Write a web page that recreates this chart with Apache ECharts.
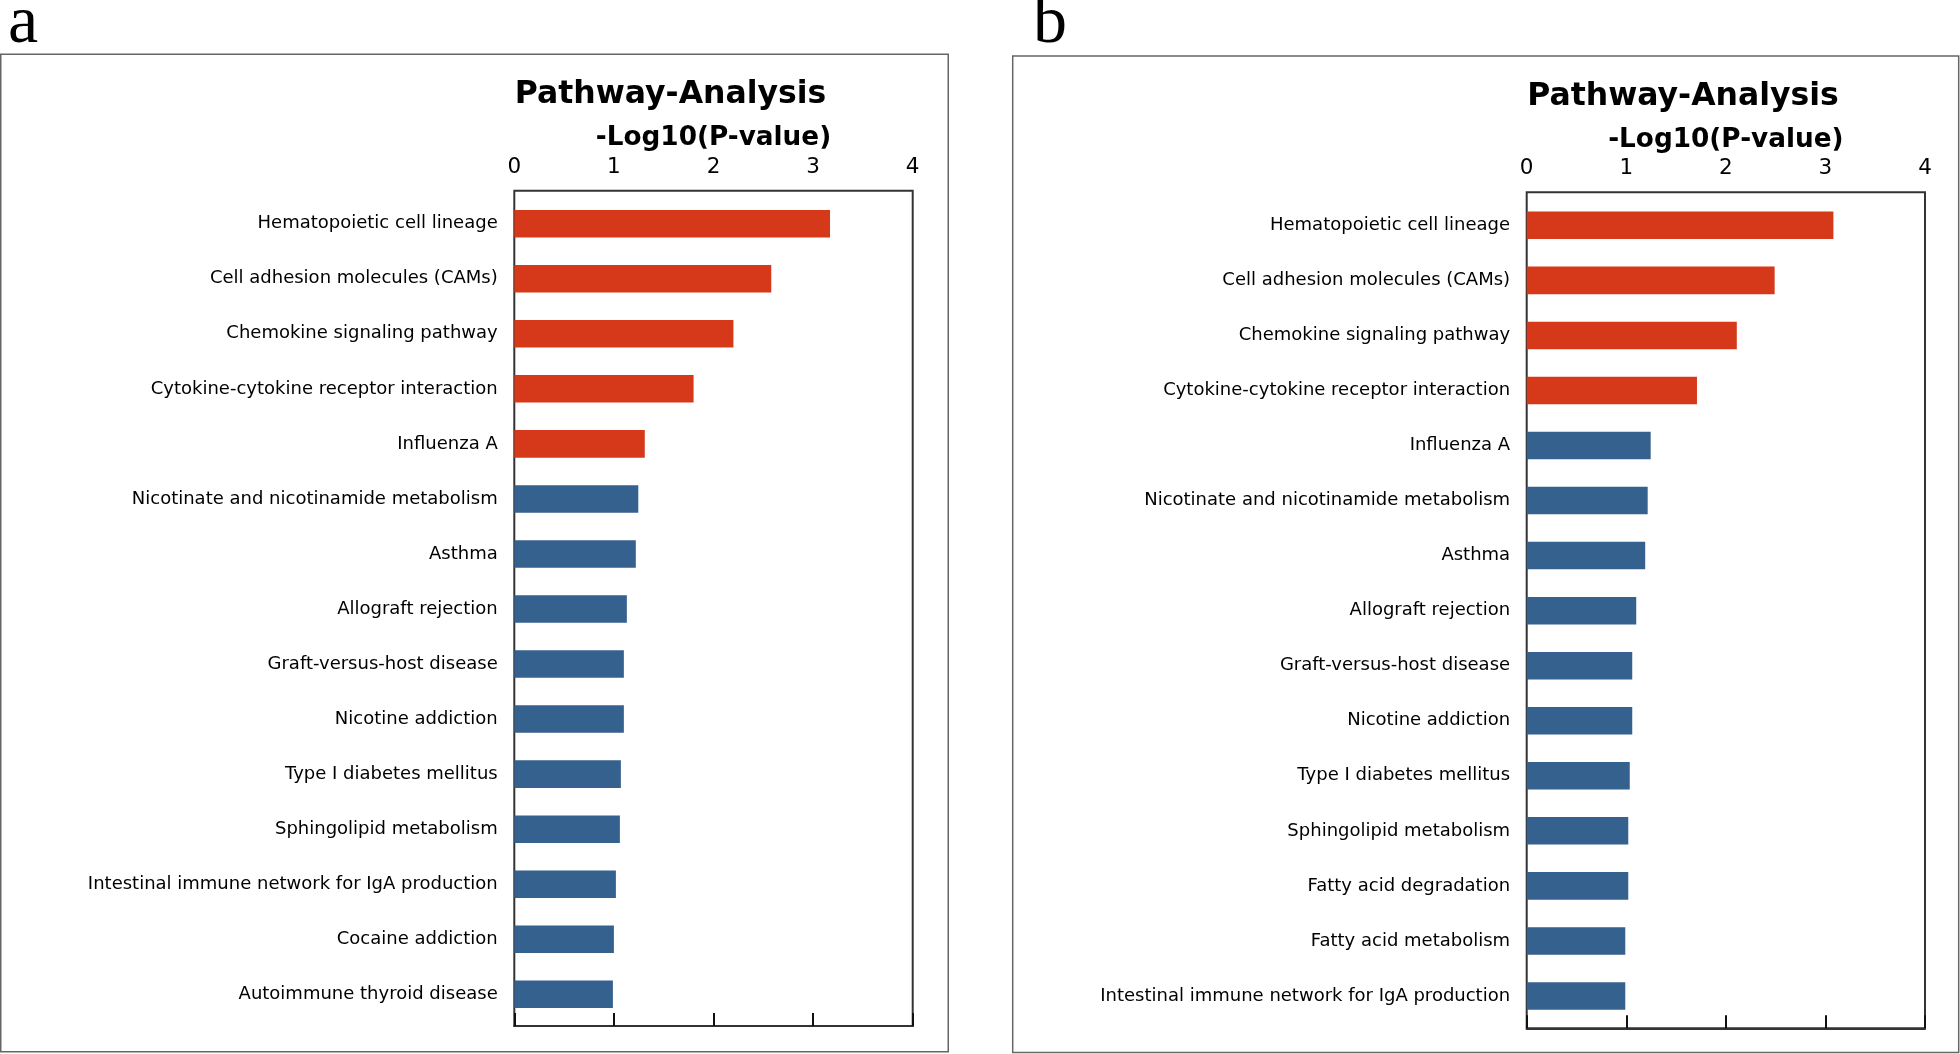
<!DOCTYPE html>
<html><head><meta charset="utf-8">
<script src="https://cdn.jsdelivr.net/npm/echarts@6/dist/echarts.min.js"></script>
<style>html,body{margin:0;padding:0;background:#fff}#c{width:1960px;height:1054px}</style>
</head><body><div id="c"></div>
<script>
// ---- data ----
const categoriesA = [
  'Hematopoietic cell lineage','Cell adhesion molecules (CAMs)','Chemokine signaling pathway',
  'Cytokine-cytokine receptor interaction','Influenza A','Nicotinate and nicotinamide metabolism',
  'Asthma','Allograft rejection','Graft-versus-host disease','Nicotine addiction',
  'Type I diabetes mellitus','Sphingolipid metabolism','Intestinal immune network for IgA production',
  'Cocaine addiction','Autoimmune thyroid disease'
];
const valuesA = [3.17, 2.58, 2.20, 1.80, 1.31, 1.245, 1.22, 1.13, 1.10, 1.10, 1.07, 1.06, 1.02, 1.00, 0.99];
const significantCountA = 5;

const categoriesB = [
  'Hematopoietic cell lineage','Cell adhesion molecules (CAMs)','Chemokine signaling pathway',
  'Cytokine-cytokine receptor interaction','Influenza A','Nicotinate and nicotinamide metabolism',
  'Asthma','Allograft rejection','Graft-versus-host disease','Nicotine addiction',
  'Type I diabetes mellitus','Sphingolipid metabolism','Fatty acid degradation',
  'Fatty acid metabolism','Intestinal immune network for IgA production'
];
const valuesB = [3.08, 2.49, 2.11, 1.71, 1.245, 1.215, 1.19, 1.10, 1.06, 1.06, 1.035, 1.02, 1.02, 0.99, 0.99];
const significantCountB = 4;

const xTickValues = [0, 1, 2, 3, 4];
const panelLetters = ['a', 'b'];
const chartTitle = 'Pathway-Analysis';
const axisTitle = '-Log10(P-value)';

// ---- style ----
const RED = '#D6391A';
const BLUE = '#35618F';
const FONT = 'DejaVu Sans';

const panels = [
  {frame:{left:0.75, top:54.3, width:947.5, height:997.5},
   plot:{left:514.3, top:190.7, width:398.4, height:835.3},
   bars:{left:514.3, top:196.2, width:398.4, height:825.6},
   titleX:670.5, titleY:78.5, letterX:8, letterY:-10,
   cats:categoriesA, vals:valuesA, sig:significantCountA, letter:panelLetters[0]},
  {frame:{left:1012.7, top:56, width:946, height:996.5},
   plot:{left:1526.7, top:192.3, width:398.3, height:836},
   bars:{left:1526.7, top:197.8, width:398.3, height:825.7},
   titleX:1683, titleY:80.5, letterX:1033, letterY:-10,
   cats:categoriesB, vals:valuesB, sig:significantCountB, letter:panelLetters[1]}
];

const grid = [], xAxis = [], yAxis = [], series = [], title = [];
const xMin = xTickValues[0], xMax = xTickValues[xTickValues.length-1], xInt = xTickValues[1]-xTickValues[0];

panels.forEach((p) => {
  const g0 = grid.length;
  // outer panel frame
  grid.push(Object.assign({show:true, borderColor:'#666', borderWidth:1.5, backgroundColor:'transparent', outerBoundsMode:'none'}, p.frame));
  xAxis.push({gridIndex:g0, type:'value', show:false, min:0, max:1});
  yAxis.push({gridIndex:g0, type:'value', show:false, min:0, max:1});
  // plot frame + visible top value axis
  grid.push(Object.assign({show:true, borderColor:'#333', borderWidth:2, backgroundColor:'transparent', outerBoundsMode:'none'}, p.plot));
  xAxis.push({gridIndex:g0+1, type:'value', position:'top', min:xMin, max:xMax, interval:xInt,
    splitLine:{show:false},
    axisLine:{show:true, lineStyle:{color:'#333', width:2}},
    axisTick:{show:true, inside:false, length:13, lineStyle:{color:'#111', width:2}},
    axisLabel:{show:true, fontFamily:FONT, fontSize:21.5, color:'#000', margin:12.5},
    name:axisTitle, nameLocation:'middle', nameGap:36,
    nameTextStyle:{fontFamily:FONT, fontSize:26.3, fontWeight:'bold', color:'#000'}
  });
  yAxis.push({gridIndex:g0+1, type:'value', show:false, min:0, max:1});
  // bars grid
  grid.push(Object.assign({show:false, outerBoundsMode:'none'}, p.bars));
  xAxis.push({gridIndex:g0+2, type:'value', show:false, min:xMin, max:xMax, interval:xInt});
  yAxis.push({gridIndex:g0+2, type:'category', inverse:true, data:p.cats,
    axisLine:{show:false}, axisTick:{show:false}, splitLine:{show:false},
    axisLabel:{fontFamily:FONT, fontSize:18, color:'#000', margin:16.6, interval:0, padding:[5,0,0,0]}
  });
  series.push({type:'bar', xAxisIndex:g0+2, yAxisIndex:g0+2, barWidth:'50%',
    data:p.vals.map((v,i)=>({value:v, itemStyle:{color: i < p.sig ? RED : BLUE}})),
    silent:true, animation:false
  });
  title.push({text:chartTitle, left:p.titleX, top:p.titleY, padding:0, textAlign:'center',
    textStyle:{fontFamily:FONT, fontSize:31.5, fontWeight:'bold', color:'#000'}});
  title.push({text:p.letter, left:p.letterX, top:p.letterY, padding:0,
    textStyle:{fontFamily:'Liberation Serif', fontSize:68, fontWeight:'normal', color:'#000'}});
});

const chart = echarts.init(document.getElementById('c'), null, {renderer:'canvas'});
chart.setOption({backgroundColor:'#fff', animation:false, title, grid, xAxis, yAxis, series});
</script></body></html>
